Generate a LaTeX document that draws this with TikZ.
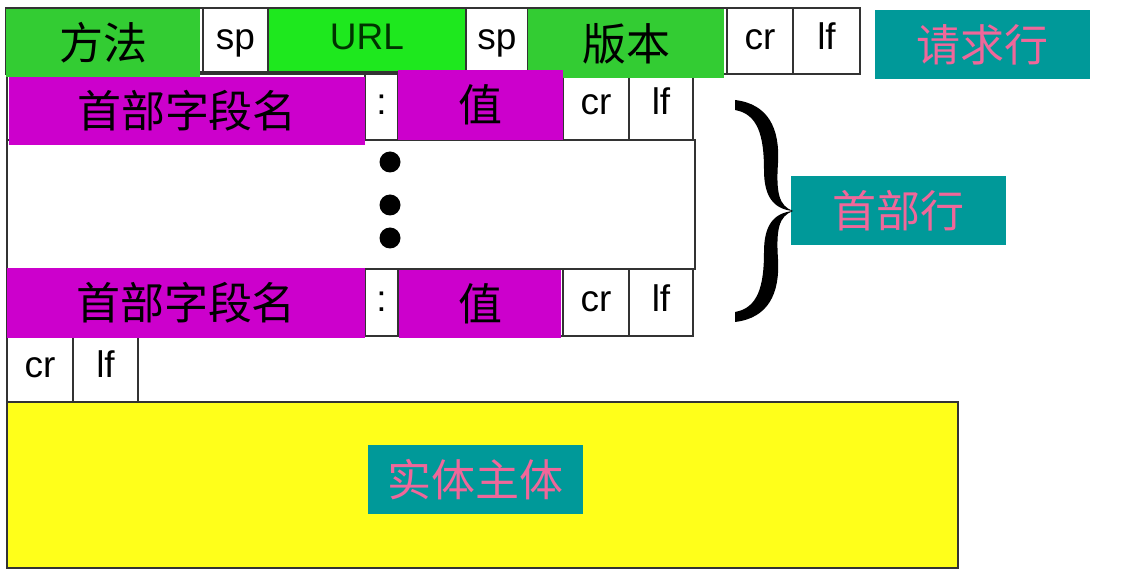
\documentclass[tikz,border=0pt]{standalone}
\usepackage{fontspec}
\setmainfont{Liberation Sans}
\newfontfamily\cjk{Noto Sans CJK SC}
\definecolor{lnc}{HTML}{333333}
\definecolor{gdark}{HTML}{33CC33}
\definecolor{gurl}{HTML}{1EE81E}
\definecolor{mag}{HTML}{CC00CC}
\definecolor{tealbg}{HTML}{009999}
\definecolor{pinktx}{HTML}{F0679A}
\definecolor{yel}{HTML}{FFFF1A}
\begin{document}
\begin{tikzpicture}[x=1pt,y=-1pt,
  cell/.style={draw=lnc, line width=1.4pt, inner sep=0pt, outer sep=0pt, anchor=north west, text height=26pt, text depth=8pt, font=\fontsize{37}{37}\selectfont},
  fbox/.style={inner sep=0pt, outer sep=0pt, anchor=north west, font=\cjk\fontsize{44}{44}\selectfont},
  lbl/.style={fill=tealbg, text=pinktx, inner sep=0pt, outer sep=0pt, anchor=north west, minimum width=215, minimum height=69, font=\cjk\fontsize{44}{44}\selectfont},
  dot/.style={circle, fill=black, inner sep=0pt, minimum size=21}]
\fill[white] (0,0) rectangle (1136,569);
\useasboundingbox (0,0) rectangle (1136,569);
% request line outline
\node[cell, minimum width=197, minimum height=66] (ca) at (6,8) {};
\node[cell, minimum width=65, minimum height=66] (sp1) at (203,8) {sp};
\node[cell, fill=gurl, text=black!80!green, minimum width=198, minimum height=66] (url) at (268,8) {URL};
\node[cell, minimum width=62, minimum height=66] (sp2) at (466,8) {sp};
\node[cell, minimum width=199, minimum height=66] (cb) at (528,8) {};
\node[cell, minimum width=66, minimum height=66] (cr1) at (727,8) {cr};
\node[cell, minimum width=67, minimum height=66] (lf1) at (793,8) {lf};
% header line 1 outline
\node[cell, minimum width=358, minimum height=68] (cc) at (7,72) {};
\node[cell, minimum width=33, minimum height=68] (col1) at (365,72) {:};
\node[cell, minimum width=165, minimum height=68] (cd) at (398,72) {};
\node[cell, minimum width=66, minimum height=68] (cr2) at (563,72) {cr};
\node[cell, minimum width=64, minimum height=68] (lf2) at (629,72) {lf};
% middle
\node[cell, minimum width=688, minimum height=129] (mid) at (7,140) {};
\node[dot] (d1) at (390,162) {};
\node[dot] (d2) at (390,205) {};
\node[dot] (d3) at (390,238) {};
% header line n outline
\node[cell, minimum width=358, minimum height=67] (ce) at (7,269) {};
\node[cell, minimum width=33, minimum height=67] (col2) at (365,269) {:};
\node[cell, minimum width=165, minimum height=67] (cf) at (398,269) {};
\node[cell, minimum width=66, minimum height=67] (cr3) at (563,269) {cr};
\node[cell, minimum width=64, minimum height=67] (lf3) at (629,269) {lf};
% blank line
\node[cell, minimum width=66, minimum height=66] (cr4) at (7,336) {cr};
\node[cell, minimum width=65, minimum height=66] (lf4) at (73,336) {lf};
% body
\node[cell, fill=yel, minimum width=951, minimum height=166] (body) at (7,402) {};
% coloured overlays
\node[fbox, fill=gdark, minimum width=194, minimum height=68] (meth) at (6,9) {方法};
\node[fbox, fill=gdark, minimum width=196, minimum height=69] (ver) at (528,9) {版本};
\node[fbox, fill=mag, minimum width=356, minimum height=68] (hn1) at (9,77) {首部字段名};
\node[fbox, fill=mag, minimum width=165, minimum height=70] (hv1) at (398,70) {值};
\node[fbox, fill=mag, minimum width=358, minimum height=70] (hn2) at (7,268) {首部字段名};
\node[fbox, fill=mag, minimum width=162, minimum height=68] (hv2) at (399,270) {值};
% labels
\node[lbl] (reqlbl) at (875,10) {请求行};
\node[lbl] (hdrlbl) at (791,176) {首部行};
\node[lbl] (bodylbl) at (368,445) {实体主体};
% brace
\fill[black] (735,100) .. controls (768,104) and (780,128) .. (778,163)
  .. controls (776,193) and (779,206) .. (793,211)
  .. controls (773,209) and (764,196) .. (764,170)
  .. controls (764,136) and (758,114) .. (735,110) -- cycle;
\fill[black] (735,322) .. controls (768,318) and (780,294) .. (778,259)
  .. controls (776,229) and (779,216) .. (793,211)
  .. controls (773,213) and (764,226) .. (764,252)
  .. controls (764,286) and (758,308) .. (735,312) -- cycle;
\end{tikzpicture}
\end{document}
